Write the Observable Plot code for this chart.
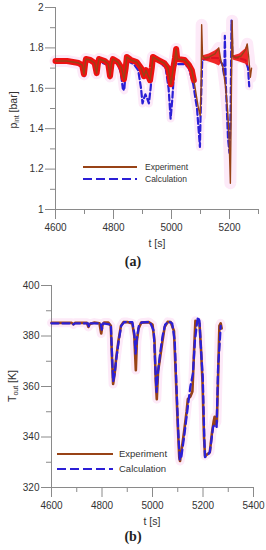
<!DOCTYPE html>
<html><head><meta charset="utf-8">
<script src="https://cdn.jsdelivr.net/npm/d3@7"></script>
<script src="https://cdn.jsdelivr.net/npm/@observablehq/plot@0.6"></script>
<style>
body{margin:0;background:#fff;font-family:"Liberation Sans",Arial,sans-serif;}
#wrap{position:relative;width:266px;height:550px;overflow:hidden;background:#fff}
.abs{position:absolute;white-space:nowrap;color:#333}
.ylab{font-size:10.5px;transform:translate(-50%,-50%) rotate(-90deg)}
.xlab{font-size:10.5px;transform:translate(-50%,-50%)}
.cap{font-family:"Liberation Serif","Times New Roman",serif;font-weight:bold;font-size:14px;color:#222;transform:translate(-50%,-50%)}
sub{font-size:7px;vertical-align:-2px}
svg.plot{position:absolute;left:0}
</style></head>
<body><div id="wrap"></div>
<script>
// ---------- Panel (a): pressure ----------
const expA_t = [4600,4640,4660,4680,4692,4698,4702,4705,4720,4735,4742,4746,4750,4770,4782,4788,4793,4798,4815,4828,4836,4842,4846,4860,4880,4895,4905,4912,4920,4926,4932,4936,4955,4975,4988,4998,5006,5012,5016,5020,5045,5060,5070,5077,5085,5093,5099,5102,5104,5107,5115,5130,5150,5163,5170,5178,5186,5193,5198,5203,5206,5209,5212,5220,5240,5255,5261,5266,5272,5276];
const expA_p = [1.735,1.735,1.73,1.725,1.715,1.67,1.72,1.745,1.74,1.725,1.675,1.72,1.745,1.735,1.72,1.66,1.72,1.745,1.73,1.70,1.645,1.70,1.755,1.74,1.73,1.70,1.66,1.69,1.66,1.64,1.70,1.755,1.74,1.725,1.70,1.62,1.70,1.75,1.795,1.745,1.74,1.715,1.69,1.64,1.57,1.50,1.465,1.60,1.915,1.76,1.75,1.755,1.77,1.80,1.74,1.70,1.61,1.50,1.38,1.13,1.50,1.935,1.76,1.75,1.76,1.79,1.82,1.76,1.655,1.70];
const calA_t = [4600,4660,4685,4695,4700,4705,4710,4735,4742,4748,4780,4788,4795,4815,4825,4832,4837,4843,4848,4870,4885,4895,4900,4905,4910,4916,4922,4928,4935,4940,4960,4980,4990,4997,5003,5010,5020,5045,5060,5075,5088,5098,5100,5106,5130,5160,5175,5182,5184,5187,5195,5200,5204,5207,5210,5230,5255,5264,5268];
const calA_p = [1.73,1.725,1.715,1.68,1.66,1.72,1.74,1.72,1.67,1.735,1.715,1.65,1.735,1.72,1.68,1.60,1.59,1.70,1.735,1.72,1.69,1.60,1.525,1.55,1.57,1.55,1.525,1.60,1.72,1.74,1.73,1.70,1.60,1.45,1.55,1.71,1.72,1.72,1.70,1.62,1.50,1.31,1.45,1.74,1.75,1.75,1.72,1.66,1.86,1.63,1.35,1.28,1.50,1.935,1.76,1.75,1.74,1.70,1.61];
// noisy envelope of the measured signal (wedges)
const bandA_t  = [5106,5130,5150,5165,5170, NaN, 5212,5235,5255,5262,5266];
const bandA_lo = [1.74,1.73,1.72,1.71,1.72, NaN, 1.74,1.73,1.72,1.71,1.71];
const bandA_hi = [1.76,1.77,1.785,1.80,1.75, NaN, 1.76,1.77,1.795,1.815,1.76];
const xMajorA = [4600,4800,5000,5200];
const xMinorA = [4700,4900,5100,5300];
const yMajorA = [1,1.2,1.4,1.6,1.8,2];
const yMinorA = [1.1,1.3,1.5,1.7,1.9];

// ---------- Panel (b): temperature ----------
const expB_t = [4600,4680,4687,4693,4740,4746,4752,4770,4790,4797,4802,4808,4825,4835,4840,4844,4850,4856,4865,4875,4885,4900,4920,4928,4934,4938,4945,4955,4985,5000,5008,5013,5017,5022,5028,5038,5048,5060,5072,5085,5092,5100,5106,5109,5114,5125,5135,5140,5150,5158,5165,5170,5180,5186,5192,5198,5204,5208,5215,5227,5236,5242,5246,5250,5255,5260,5265,5270,5274];
const expB_T = [385.2,385.2,384.6,385.2,385.2,383.6,384.8,385.3,385,381,384.5,385.3,385.3,384,370,361,365,371,378,384,385.5,385.5,385,380,366.5,378,383,385.3,385.5,384.5,378,362,355,366,370,377,383.5,385.6,385.5,382,365,345,332,330.5,334,342,350,355,356,358,375,386,385.5,385,375,362,340,332.5,333,334,342,346,348,345,346,365,384,385,383];
const calB_t = [4600,4680,4687,4693,4745,4748,4754,4795,4799,4805,4835,4840,4844,4850,4858,4866,4876,4888,4920,4928,4933,4938,4946,4958,4990,5005,5012,5016,5020,5030,5040,5050,5065,5078,5088,5095,5102,5108,5114,5125,5138,5150,5160,5168,5176,5180,5186,5192,5199,5205,5208,5220,5227,5235,5240,5248,5254,5260,5266,5270];
const calB_T = [385,385,384.6,385,385,383.8,385,385,382.5,385,384.5,372,362,365,372,378,384,385.5,385.5,381,373,379,384,385.4,385.5,382,366,357.8,364,373,380,384.5,385.8,385,378,360,342,331,332,340,350.5,360,365,378,385,387.5,386,375,363.7,340,332,333,334,340,344,345,344,368,377,384];
const xMajorB = [4600,4800,5000,5200,5400];
const xMinorB = [4700,4900,5100,5300];
const yMajorB = [320,340,360,380,400];
const yMinorB = [330,350,370,390];

const seriesNames = ["Experiment","Calculation"];

// ---------- styles ----------
const BROWN = "#984316", RED = "#ee1111", BLUE = "#2b1fd6", PINK = "#fdeaf8", AXIS = "#8a8a8a";
const tbl = (ts, vs) => ts.map((t, i) => ({t, v: vs[i]}));

function axes(xMaj, xMin, yMaj, yMin, x0, y0, fmtY) {
  return [
    Plot.ruleX([x0], {stroke: AXIS, strokeWidth: 1}),
    Plot.ruleY([y0], {stroke: AXIS, strokeWidth: 1}),
    Plot.axisX(xMaj, {tickSize: 10, tickPadding: 4, stroke: AXIS, fill: "#333", label: null, tickFormat: d => String(d)}),
    Plot.axisX(xMin, {tickSize: 5, stroke: AXIS, label: null, tickFormat: () => ""}),
    Plot.axisY(yMaj, {tickSize: 10, tickPadding: 2, stroke: AXIS, fill: "#333", label: null, tickFormat: fmtY}),
    Plot.axisY(yMin, {tickSize: 5, stroke: AXIS, label: null, tickFormat: () => ""})
  ];
}
const style = {fontFamily: '"Liberation Sans", Arial, sans-serif', fontSize: "10px", background: "transparent", overflow: "visible", color: "#333"};

const wrap = document.getElementById("wrap");

// Panel (a)
const eA = tbl(expA_t, expA_p), cA = tbl(calA_t, calA_p);
const bA = bandA_t.map((t, i) => ({t, lo: bandA_lo[i], hi: bandA_hi[i]}));
const plotA = Plot.plot({
  width: 266, height: 250, marginLeft: 55, marginRight: 8, marginTop: 7, marginBottom: 41,
  x: {domain: [4600, 5300]}, y: {domain: [1, 2]},
  style,
  marks: [
    Plot.line(eA, {x: "t", y: "v", stroke: PINK, strokeWidth: 12}),
    Plot.line(cA, {x: "t", y: "v", stroke: PINK, strokeWidth: 8}),
    ...axes(xMajorA, xMinorA, yMajorA, yMinorA, 4600, 1, d => String(+d.toFixed(1))),
    Plot.line(cA, {x: "t", y: "v", stroke: BLUE, strokeWidth: 2.2, strokeDasharray: "6,3"}),
    Plot.line(eA.filter(d => d.t < 5085), {x: "t", y: "v", stroke: RED, strokeWidth: 6}),
    Plot.areaY(bA, {x: "t", y1: "lo", y2: "hi", fill: RED, fillOpacity: 0.9}),
    Plot.line(eA, {x: "t", y: "v", stroke: BROWN, strokeWidth: 1.4})
  ]
});
plotA.classList.add("plot");
plotA.style.top = "0px";
wrap.appendChild(plotA);

// Panel (b)
const eB = tbl(expB_t, expB_T), cB = tbl(calB_t, calB_T);
const plotB = Plot.plot({
  width: 266, height: 245, marginLeft: 51, marginRight: 13, marginTop: 15, marginBottom: 28,
  x: {domain: [4600, 5400]}, y: {domain: [320, 400]},
  style,
  marks: [
    Plot.line(eB, {x: "t", y: "v", stroke: PINK, strokeWidth: 9}),
    ...axes(xMajorB, xMinorB, yMajorB, yMinorB, 4600, 320, d => String(d)),
    Plot.line(eB, {x: "t", y: "v", stroke: BROWN, strokeWidth: 2.6}),
    Plot.line(cB, {x: "t", y: "v", stroke: BLUE, strokeWidth: 2.3, strokeDasharray: "7,4"})
  ]
});
plotB.classList.add("plot");
plotB.style.top = "270px";
wrap.appendChild(plotB);

// ---------- text & legends ----------
function addDiv(cls, html, x, y) {
  const d = document.createElement("div");
  d.className = "abs " + cls;
  d.innerHTML = html;
  d.style.left = x + "px"; d.style.top = y + "px";
  wrap.appendChild(d);
}
addDiv("ylab", "p<sub>int</sub> [bar]", 13, 110);
addDiv("xlab", "t [s]", 157, 243);
addDiv("cap", "(a)", 133, 262);
addDiv("ylab", "T<sub>out</sub> [K]", 12, 386);
addDiv("xlab", "t [s]", 152, 521);
addDiv("cap", "(b)", 133, 537);

function legend(x1, x2, yE, yC, tx, fs) {
  const ns = "http://www.w3.org/2000/svg";
  const svg = document.createElementNS(ns, "svg");
  svg.setAttribute("width", 266); svg.setAttribute("height", 550);
  svg.style.position = "absolute"; svg.style.left = "0"; svg.style.top = "0";
  const mk = (y, stroke, dash, w) => {
    const l = document.createElementNS(ns, "line");
    l.setAttribute("x1", x1); l.setAttribute("x2", x2); l.setAttribute("y1", y); l.setAttribute("y2", y);
    l.setAttribute("stroke", stroke); l.setAttribute("stroke-width", w);
    if (dash) l.setAttribute("stroke-dasharray", dash);
    svg.appendChild(l);
  };
  mk(yE, BROWN, null, 2.2);
  mk(yC, BLUE, "9,4", 2.2);
  [[yE, seriesNames[0]], [yC, seriesNames[1]]].forEach(([y, s]) => {
    const t = document.createElementNS(ns, "text");
    t.setAttribute("x", tx); t.setAttribute("y", y); t.setAttribute("dy", "0.35em");
    t.setAttribute("font-size", fs); t.setAttribute("fill", "#333");
    t.setAttribute("font-family", '"Liberation Sans", Arial, sans-serif');
    t.textContent = s; svg.appendChild(t);
  });
  wrap.appendChild(svg);
}
legend(83, 137, 167, 179, 145, 8.5);
legend(57, 113, 454, 469, 119, 9.5);
</script>
</body></html>
